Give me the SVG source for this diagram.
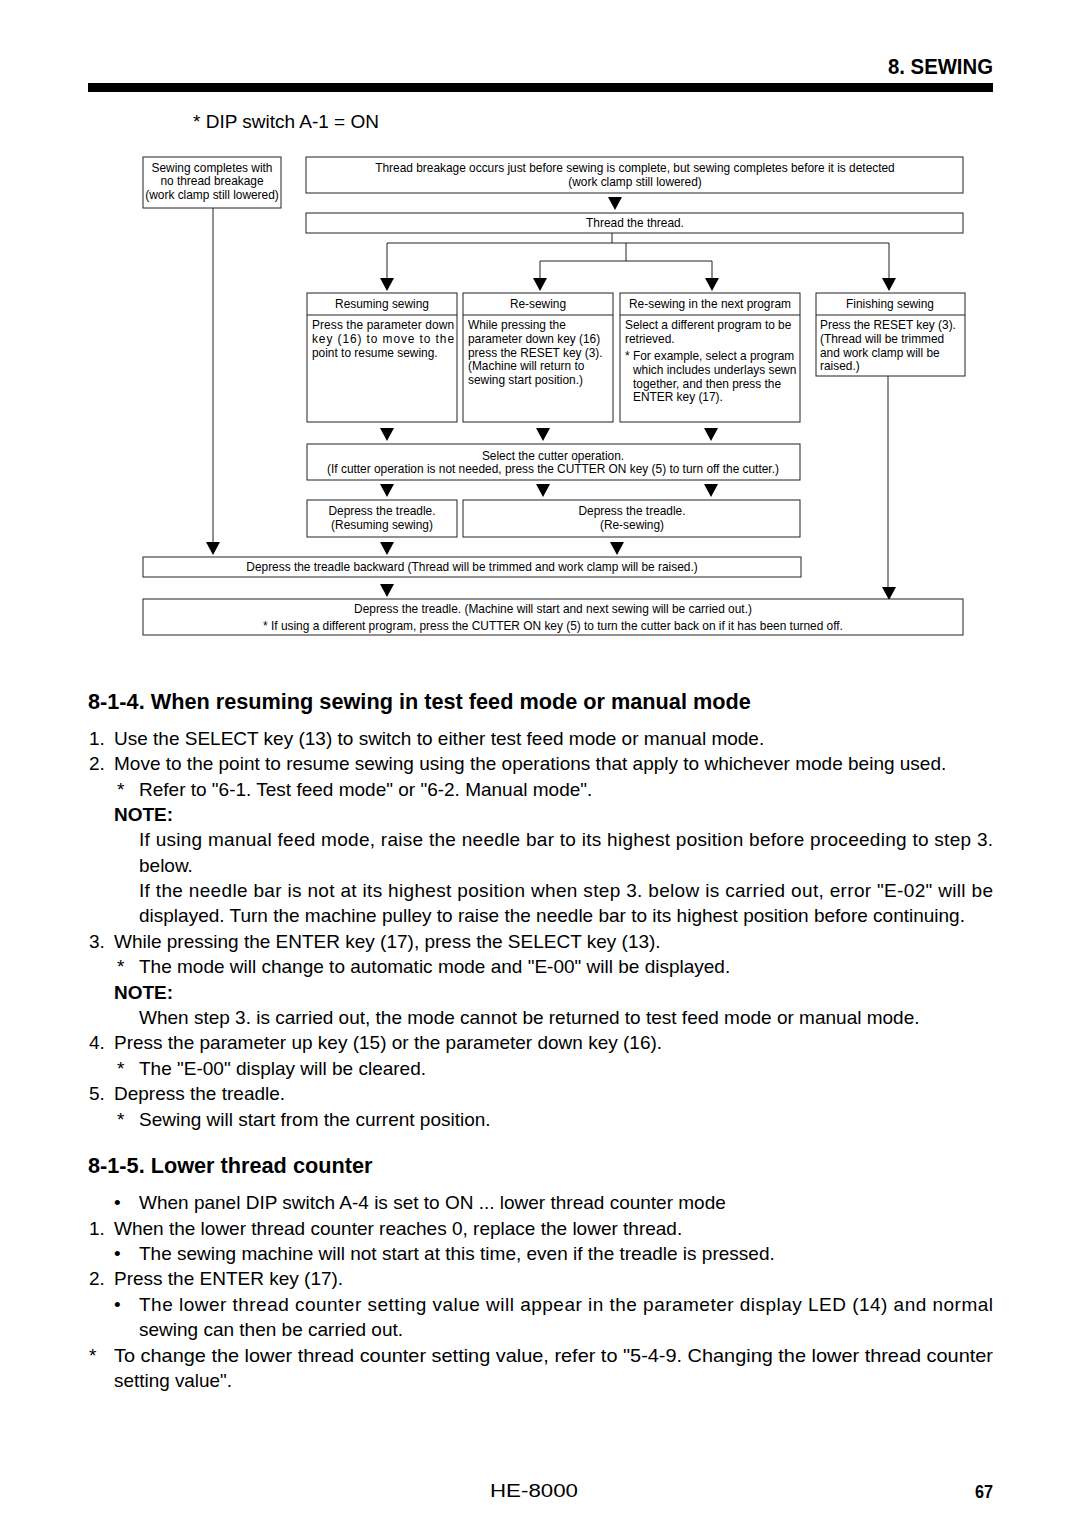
<svg xmlns="http://www.w3.org/2000/svg" xmlns:xlink="http://www.w3.org/1999/xlink" width="1080" height="1528" viewBox="0 0 1080 1528">
<style>
.bx{fill:#fff;stroke:#222;stroke-width:1}
.ln{fill:none;stroke:#222;stroke-width:1}
.s{font-family:"Liberation Sans",Arial,sans-serif;font-size:11.9px;fill:#000}
.c{text-anchor:middle}
.b{font-family:"Liberation Sans",Arial,sans-serif;font-size:19px;fill:#000}
.h{font-family:"Liberation Sans",Arial,sans-serif;font-size:21.7px;font-weight:bold;fill:#000}
.bd{font-weight:bold}
</style>
<defs>
<polygon id="tri" points="-7,0 7,0 0,13" fill="#000"/>
</defs>
<rect width="1080" height="1528" fill="#fff"/>

<g id="header">
<text class="h" x="888" y="74" font-size="20" textLength="105" lengthAdjust="spacingAndGlyphs">8. SEWING</text>
<rect x="88" y="83" width="905" height="9" fill="#000"/>
<text class="b" x="193" y="128" font-size="17" textLength="186" lengthAdjust="spacingAndGlyphs">* DIP switch A-1 = ON</text>
</g>

<g id="connectors">
<path class="ln" d="M213,208 V542 M612,233 V243 M387,243 H889 M387,243 V278 M889,243 V278 M626,243 V261 M540,261 H712 M540,261 V278 M712,261 V278 M888,376 V587"/>
<use xlink:href="#tri" x="615" y="197"/>
<use xlink:href="#tri" x="387" y="278"/>
<use xlink:href="#tri" x="540" y="278"/>
<use xlink:href="#tri" x="712" y="278"/>
<use xlink:href="#tri" x="889" y="278"/>
<use xlink:href="#tri" x="387" y="428"/>
<use xlink:href="#tri" x="543" y="428"/>
<use xlink:href="#tri" x="711" y="428"/>
<use xlink:href="#tri" x="387" y="484"/>
<use xlink:href="#tri" x="543" y="484"/>
<use xlink:href="#tri" x="711" y="484"/>
<use xlink:href="#tri" x="213" y="542"/>
<use xlink:href="#tri" x="387" y="542"/>
<use xlink:href="#tri" x="617" y="542"/>
<use xlink:href="#tri" x="387" y="584"/>
<use xlink:href="#tri" x="889" y="587"/>
</g>

<g id="node-no-breakage">
<rect class="bx" x="143" y="157" width="138" height="51"/>
<text class="s c" x="212" y="172" font-size="11.5">Sewing completes with</text>
<text class="s c" x="212" y="185" font-size="11.5">no thread breakage</text>
<text class="s c" x="212" y="199" font-size="11.5">(work clamp still lowered)</text>
</g>

<g id="node-breakage">
<rect class="bx" x="306" y="157" width="657" height="36"/>
<text class="s c" x="635" y="172">Thread breakage occurs just before sewing is complete, but sewing completes before it is detected</text>
<text class="s c" x="635" y="186">(work clamp still lowered)</text>
</g>

<g id="node-thread">
<rect class="bx" x="306" y="213" width="657" height="20"/>
<text class="s c" x="635" y="227">Thread the thread.</text>
</g>

<g id="node-resuming">
<rect class="bx" x="307" y="293" width="150" height="129"/>
<line class="ln" x1="307" y1="315" x2="457" y2="315"/>
<text class="s c" x="382" y="308">Resuming sewing</text>
<text class="s" x="312" y="329" textLength="142" lengthAdjust="spacing">Press the parameter down</text>
<text class="s" x="312" y="343" textLength="142" lengthAdjust="spacing">key (16) to move to the</text>
<text class="s" x="312" y="357">point to resume sewing.</text>
</g>

<g id="node-resewing">
<rect class="bx" x="463" y="293" width="150" height="129"/>
<line class="ln" x1="463" y1="315" x2="613" y2="315"/>
<text class="s c" x="538" y="308">Re-sewing</text>
<text class="s" x="468" y="329">While pressing the</text>
<text class="s" x="468" y="343">parameter down key (16)</text>
<text class="s" x="468" y="357">press the RESET key (3).</text>
<text class="s" x="468" y="370">(Machine will return to</text>
<text class="s" x="468" y="384">sewing start position.)</text>
</g>

<g id="node-next-program">
<rect class="bx" x="620" y="293" width="180" height="129"/>
<line class="ln" x1="620" y1="315" x2="800" y2="315"/>
<text class="s c" x="710" y="308">Re-sewing in the next program</text>
<text class="s" x="625" y="329">Select a different program to be</text>
<text class="s" x="625" y="343">retrieved.</text>
<text class="s" x="625" y="360">* For example, select a program</text>
<text class="s" x="633" y="374">which includes underlays sewn</text>
<text class="s" x="633" y="388">together, and then press the</text>
<text class="s" x="633" y="401">ENTER key (17).</text>
</g>

<g id="node-finishing">
<rect class="bx" x="816" y="293" width="149" height="83"/>
<line class="ln" x1="816" y1="315" x2="965" y2="315"/>
<text class="s c" x="890" y="308">Finishing sewing</text>
<text class="s" x="820" y="329">Press the RESET key (3).</text>
<text class="s" x="820" y="343">(Thread will be trimmed</text>
<text class="s" x="820" y="357">and work clamp will be</text>
<text class="s" x="820" y="370">raised.)</text>
</g>

<g id="node-cutter">
<rect class="bx" x="307" y="444" width="493" height="36"/>
<text class="s c" x="553" y="460">Select the cutter operation.</text>
<text class="s c" x="553" y="473">(If cutter operation is not needed, press the CUTTER ON key (5) to turn off the cutter.)</text>
</g>

<g id="node-depress-resuming">
<rect class="bx" x="307" y="500" width="150" height="37"/>
<text class="s c" x="382" y="515">Depress the treadle.</text>
<text class="s c" x="382" y="529">(Resuming sewing)</text>
</g>

<g id="node-depress-resewing">
<rect class="bx" x="463" y="500" width="337" height="37"/>
<text class="s c" x="632" y="515">Depress the treadle.</text>
<text class="s c" x="632" y="529">(Re-sewing)</text>
</g>

<g id="node-backward">
<rect class="bx" x="143" y="557" width="658" height="20"/>
<text class="s c" x="472" y="571">Depress the treadle backward (Thread will be trimmed and work clamp will be raised.)</text>
</g>

<g id="node-final">
<rect class="bx" x="143" y="599" width="820" height="36"/>
<text class="s c" x="553" y="613">Depress the treadle. (Machine will start and next sewing will be carried out.)</text>
<text class="s c" x="553" y="630">* If using a different program, press the CUTTER ON key (5) to turn the cutter back on if it has been turned off.</text>
</g>

<g id="body">
<text class="h" x="88" y="709">8-1-4. When resuming sewing in test feed mode or manual mode</text>
<text class="b" x="89" y="745">1.</text><text class="b" x="114" y="745">Use the SELECT key (13) to switch to either test feed mode or manual mode.</text>
<text class="b" x="89" y="770">2.</text><text class="b" x="114" y="770">Move to the point to resume sewing using the operations that apply to whichever mode being used.</text>
<text class="b" x="117" y="796">*</text><text class="b" x="139" y="796">Refer to "6-1. Test feed mode" or "6-2. Manual mode".</text>
<text class="b bd" x="114" y="821">NOTE:</text>
<text class="b" x="139" y="846" textLength="854" lengthAdjust="spacing">If using manual feed mode, raise the needle bar to its highest position before proceeding to step 3.</text>
<text class="b" x="139" y="872">below.</text>
<text class="b" x="139" y="897" textLength="854" lengthAdjust="spacing">If the needle bar is not at its highest position when step 3. below is carried out, error "E-02" will be</text>
<text class="b" x="139" y="922">displayed. Turn the machine pulley to raise the needle bar to its highest position before continuing.</text>
<text class="b" x="89" y="948">3.</text><text class="b" x="114" y="948">While pressing the ENTER key (17), press the SELECT key (13).</text>
<text class="b" x="117" y="973">*</text><text class="b" x="139" y="973">The mode will change to automatic mode and "E-00" will be displayed.</text>
<text class="b bd" x="114" y="999">NOTE:</text>
<text class="b" x="139" y="1024">When step 3. is carried out, the mode cannot be returned to test feed mode or manual mode.</text>
<text class="b" x="89" y="1049">4.</text><text class="b" x="114" y="1049">Press the parameter up key (15) or the parameter down key (16).</text>
<text class="b" x="117" y="1075">*</text><text class="b" x="139" y="1075">The "E-00" display will be cleared.</text>
<text class="b" x="89" y="1100">5.</text><text class="b" x="114" y="1100">Depress the treadle.</text>
<text class="b" x="117" y="1126">*</text><text class="b" x="139" y="1126">Sewing will start from the current position.</text>

<text class="h" x="88" y="1173">8-1-5. Lower thread counter</text>
<text class="b" x="114" y="1209">•</text><text class="b" x="139" y="1209">When panel DIP switch A-4 is set to ON ... lower thread counter mode</text>
<text class="b" x="89" y="1235">1.</text><text class="b" x="114" y="1235">When the lower thread counter reaches 0, replace the lower thread.</text>
<text class="b" x="114" y="1260">•</text><text class="b" x="139" y="1260">The sewing machine will not start at this time, even if the treadle is pressed.</text>
<text class="b" x="89" y="1285">2.</text><text class="b" x="114" y="1285">Press the ENTER key (17).</text>
<text class="b" x="114" y="1311">•</text><text class="b" x="139" y="1311" textLength="854" lengthAdjust="spacing">The lower thread counter setting value will appear in the parameter display LED (14) and normal</text>
<text class="b" x="139" y="1336">sewing can then be carried out.</text>
<text class="b" x="89" y="1362" font-size="17">*</text>
<text class="b" x="114" y="1362" font-size="17" textLength="879" lengthAdjust="spacingAndGlyphs">To change the lower thread counter setting value, refer to "5-4-9. Changing the lower thread counter</text>
<text class="b" x="114" y="1387" font-size="17" textLength="118" lengthAdjust="spacingAndGlyphs">setting value".</text>
</g>

<g id="footer">
<text class="b" x="490" y="1497" font-size="17" textLength="88" lengthAdjust="spacingAndGlyphs">HE-8000</text>
<text class="b bd" x="975" y="1498" font-size="17" textLength="18" lengthAdjust="spacingAndGlyphs">67</text>
</g>
</svg>
